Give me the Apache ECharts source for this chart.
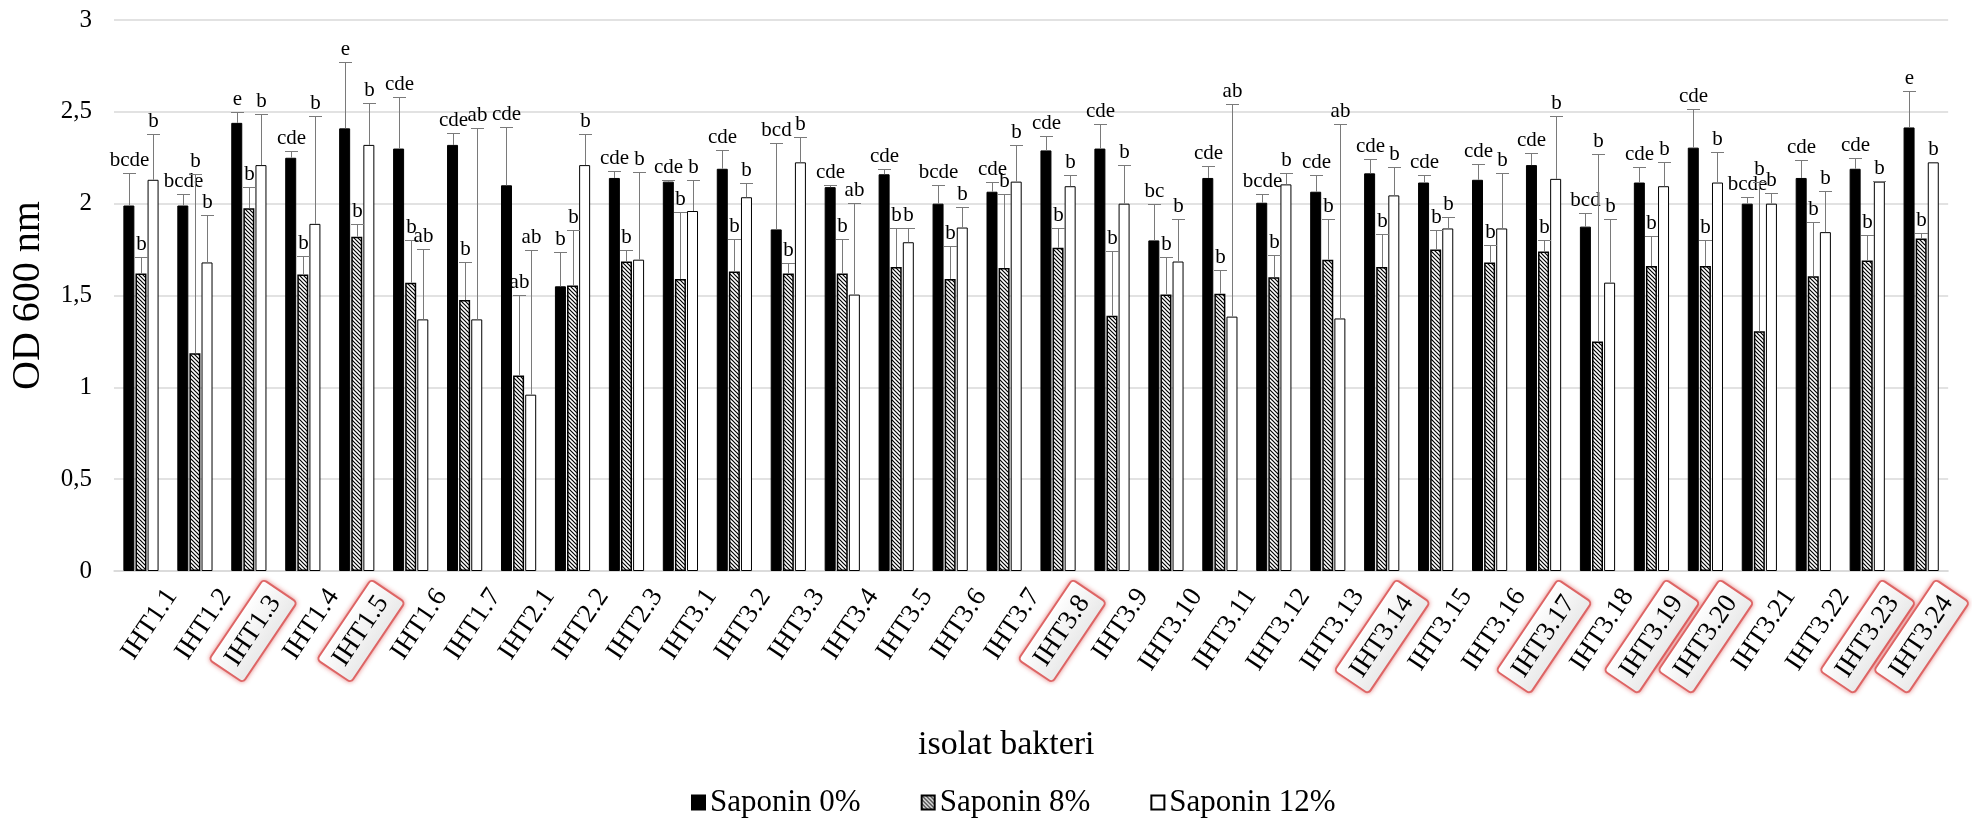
<!DOCTYPE html>
<html>
<head>
<meta charset="utf-8">
<title>OD 600 nm isolat bakteri</title>
<script src="https://cdn.jsdelivr.net/npm/echarts@6/dist/echarts.min.js"></script>
<style>
  html, body { margin: 0; padding: 0; background: #ffffff; }
  #chart { width: 1972px; height: 824px; }
</style>
</head>
<body>
<div id="chart"></div>
<script>
// Bacterial isolates
const categories = [
  'IHT1.1', 'IHT1.2', 'IHT1.3', 'IHT1.4', 'IHT1.5', 'IHT1.6', 'IHT1.7',
  'IHT2.1', 'IHT2.2', 'IHT2.3',
  'IHT3.1', 'IHT3.2', 'IHT3.3', 'IHT3.4', 'IHT3.5', 'IHT3.6', 'IHT3.7', 'IHT3.8',
  'IHT3.9', 'IHT3.10', 'IHT3.11', 'IHT3.12', 'IHT3.13', 'IHT3.14', 'IHT3.15', 'IHT3.16',
  'IHT3.17', 'IHT3.18', 'IHT3.19', 'IHT3.20', 'IHT3.21', 'IHT3.22', 'IHT3.23', 'IHT3.24'
];

// Isolates framed on the category axis
const highlighted = ['IHT1.3', 'IHT1.5', 'IHT3.8', 'IHT3.14', 'IHT3.17', 'IHT3.19', 'IHT3.20', 'IHT3.23', 'IHT3.24'];

const seriesNames = ['Saponin 0%', 'Saponin 8%', 'Saponin 12%'];

// Mean OD 600 nm
const s0Mean = [1.99, 1.99, 2.44, 2.25, 2.41, 2.30, 2.32, 2.10, 1.55, 2.14, 2.12, 2.19, 1.86, 2.09, 2.16, 2.00, 2.065,
  2.29, 2.30, 1.80, 2.14, 2.005, 2.065, 2.165, 2.115, 2.13, 2.21, 1.875, 2.115, 2.305, 2.00, 2.14, 2.19, 2.415];
const s8Mean = [1.62, 1.185, 1.975, 1.615, 1.82, 1.57, 1.475, 1.065, 1.555, 1.685, 1.59, 1.63, 1.62, 1.62, 1.655, 1.59, 1.65,
  1.76, 1.39, 1.505, 1.51, 1.60, 1.695, 1.655, 1.75, 1.68, 1.74, 1.25, 1.66, 1.66, 1.305, 1.605, 1.69, 1.81];
const s12Mean = [2.13, 1.68, 2.21, 1.89, 2.32, 1.37, 1.37, 0.96, 2.21, 1.695, 1.96, 2.035, 2.225, 1.505, 1.79, 1.87, 2.12,
  2.095, 2.00, 1.685, 1.385, 2.105, 1.375, 2.045, 1.865, 1.865, 2.135, 1.57, 2.095, 2.115, 2.00, 1.845, 2.12, 2.225];

// Standard deviation (upper error bar)
const s0Err = [0.175, 0.06, 0.06, 0.035, 0.36, 0.28, 0.065, 0.315, 0.185, 0.04, 0.01, 0.10, 0.47, 0.01, 0.03, 0.10, 0.055,
  0.08, 0.135, 0.20, 0.065, 0.05, 0.09, 0.08, 0.04, 0.085, 0.065, 0.075, 0.085, 0.21, 0.035, 0.10, 0.06, 0.20];
const s8Err = [0.09, 0.975, 0.115, 0.10, 0.07, 0.23, 0.21, 0.44, 0.30, 0.065, 0.365, 0.175, 0.055, 0.19, 0.21, 0.18, 0.405,
  0.11, 0.355, 0.205, 0.13, 0.12, 0.22, 0.18, 0.105, 0.095, 0.06, 1.02, 0.165, 0.14, 0.815, 0.295, 0.14, 0.03];
const s12Err = [0.25, 0.26, 0.28, 0.59, 0.23, 0.385, 1.04, 0.79, 0.17, 0.48, 0.17, 0.08, 0.14, 0.50, 0.08, 0.11, 0.20,
  0.06, 0.21, 0.23, 1.16, 0.06, 1.06, 0.155, 0.06, 0.30, 0.34, 0.345, 0.13, 0.165, 0.06, 0.225, 0.005, 0];

// Significance letters
const s0Letters = ['bcde', 'bcde', 'e', 'cde', 'e', 'cde', 'cde', 'cde', 'b', 'cde', 'cde', 'cde', 'bcd', 'cde', 'cde', 'bcde', 'cde',
  'cde', 'cde', 'bc', 'cde', 'bcde', 'cde', 'cde', 'cde', 'cde', 'cde', 'bcd', 'cde', 'cde', 'bcde', 'cde', 'cde', 'e'];
const s8Letters = ['b', 'b', 'b', 'b', 'b', 'b', 'b', 'ab', 'b', 'b', 'b', 'b', 'b', 'b', 'b', 'b', 'b',
  'b', 'b', 'b', 'b', 'b', 'b', 'b', 'b', 'b', 'b', 'b', 'b', 'b', 'b', 'b', 'b', 'b'];
const s12Letters = ['b', 'b', 'b', 'b', 'b', 'ab', 'ab', 'ab', 'b', 'b', 'b', 'b', 'b', 'ab', 'b', 'b', 'b',
  'b', 'b', 'b', 'ab', 'b', 'ab', 'b', 'b', 'b', 'b', 'b', 'b', 'b', 'b', 'b', 'b', 'b'];

// Value axis
const yMin = 0, yMax = 3, yStep = 0.5;
const yTickLabels = ['0', '0,5', '1', '1,5', '2', '2,5', '3'];

const FONT = '"Liberation Serif", "Times New Roman", serif';
const BAR_W = 11;
const BAR_GAP = 0.1;
const STEP = BAR_W * (1 + BAR_GAP);
const ERR_COLOR = '#7a7a7a';

// Diagonal hatch fill for the 8% series
function hatchPattern() {
  const c = document.createElement('canvas');
  c.width = 4; c.height = 4;
  const g = c.getContext('2d');
  g.fillStyle = '#ffffff';
  g.fillRect(0, 0, 4, 4);
  g.strokeStyle = '#000000';
  g.lineWidth = 1.2;
  g.beginPath();
  g.moveTo(-1, -1); g.lineTo(5, 5);
  g.moveTo(-1, 3); g.lineTo(1, 5);
  g.moveTo(3, -1); g.lineTo(5, 1);
  g.stroke();
  return c;
}

// Upper error bar plus significance letter for one series (k = position within group)
function errorSeries(k, means, errs, letters) {
  return {
    type: 'custom',
    silent: true,
    z: 5,
    data: means.map((m, i) => [i, m, errs[i]]),
    encode: { x: 0, y: 1 },
    renderItem: function (params, api) {
      const i = api.value(0), m = api.value(1), e = api.value(2);
      const base = api.coord([i, m]);
      const top = api.coord([i, m + e]);
      const x = Math.round(base[0] + (k - 1) * STEP) + 0.5;
      const yTop = Math.round(top[1]) + 0.5;
      const children = [];
      if (e > 0) {
        children.push({
          type: 'line',
          shape: { x1: x, y1: base[1], x2: x, y2: yTop },
          style: { stroke: ERR_COLOR, lineWidth: 1 }
        });
        children.push({
          type: 'line',
          shape: { x1: x - BAR_W / 2 - 1, y1: yTop, x2: x + BAR_W / 2 + 1, y2: yTop },
          style: { stroke: ERR_COLOR, lineWidth: 1 }
        });
      }
      children.push({
        type: 'text',
        style: {
          text: letters[params.dataIndex],
          x: x,
          y: yTop - 3,
          align: 'center',
          verticalAlign: 'bottom',
          font: '21px ' + FONT,
          fill: '#000000'
        }
      });
      return { type: 'group', children: children };
    }
  };
}

const chart = echarts.init(document.getElementById('chart'), null, { renderer: 'canvas' });

const option = {
  backgroundColor: '#ffffff',
  animation: false,
  grid: { left: 105, right: 1, top: 20, bottom: 253, containLabel: false },
  legend: {
    data: seriesNames,
    left: 686,
    top: 782,
    icon: 'rect',
    itemWidth: 13,
    itemHeight: 14,
    itemGap: 60,
    textStyle: { fontFamily: FONT, fontSize: 31, color: '#000000' }
  },
  graphic: [{
    type: 'text',
    left: 1003 - 85,
    top: 728,
    style: { text: 'isolat bakteri', font: '34px ' + FONT, fill: '#000000' }
  }],
  xAxis: {
    type: 'category',
    data: categories,
    axisLine: { show: true, lineStyle: { color: '#d9d9d9', width: 1.5 } },
    axisTick: { show: false },
    axisLabel: {
      interval: 0,
      rotate: 56,
      margin: 0,
      padding: [74, 0, 0, 0],
      color: '#000000',
      fontFamily: FONT,
      fontSize: 27,
      formatter: function (name) {
        return highlighted.indexOf(name) >= 0 ? '{hl|' + name + '}' : '{n|' + name + '}';
      },
      rich: {
        n: { fontFamily: FONT, fontSize: 27, color: '#000000', padding: [5, 0, 5, 0] },
        hl: {
          fontFamily: FONT, fontSize: 27, color: '#000000',
          backgroundColor: {
            type: 'linear', x: 0, y: 0, x2: 0, y2: 1,
            colorStops: [{ offset: 0, color: '#ffffff' }, { offset: 1, color: '#e9e9e9' }]
          },
          borderColor: '#e07070',
          borderWidth: 2,
          borderRadius: 3,
          padding: [6, 8, 6, 8],
          shadowColor: 'rgba(210, 40, 40, 0.45)',
          shadowBlur: 5
        }
      }
    }
  },
  yAxis: {
    type: 'value',
    min: yMin,
    max: yMax,
    interval: yStep,
    name: 'OD 600 nm',
    nameLocation: 'middle',
    nameGap: 66,
    nameTextStyle: { fontFamily: FONT, fontSize: 40, color: '#000000' },
    axisLine: { show: false },
    axisTick: { show: false },
    axisLabel: {
      margin: 22,
      color: '#000000',
      fontFamily: FONT,
      fontSize: 25,
      formatter: function (v) { return yTickLabels[Math.round((v - yMin) / yStep)]; }
    },
    splitLine: { lineStyle: { color: '#d9d9d9', width: 1.5 } }
  },
  series: [
    {
      name: seriesNames[0], type: 'bar', data: s0Mean,
      barWidth: BAR_W, barGap: (BAR_GAP * 100) + '%',
      itemStyle: { color: '#000000', borderColor: '#000000', borderWidth: 1 }
    },
    {
      name: seriesNames[1], type: 'bar', data: s8Mean,
      barWidth: BAR_W, barGap: (BAR_GAP * 100) + '%',
      itemStyle: { color: { image: hatchPattern(), repeat: 'repeat' }, borderColor: '#000000', borderWidth: 1.5 }
    },
    {
      name: seriesNames[2], type: 'bar', data: s12Mean,
      barWidth: BAR_W, barGap: (BAR_GAP * 100) + '%',
      itemStyle: { color: '#ffffff', borderColor: '#000000', borderWidth: 1 }
    },
    errorSeries(0, s0Mean, s0Err, s0Letters),
    errorSeries(1, s8Mean, s8Err, s8Letters),
    errorSeries(2, s12Mean, s12Err, s12Letters)
  ]
};

chart.setOption(option);
</script>
</body>
</html>
